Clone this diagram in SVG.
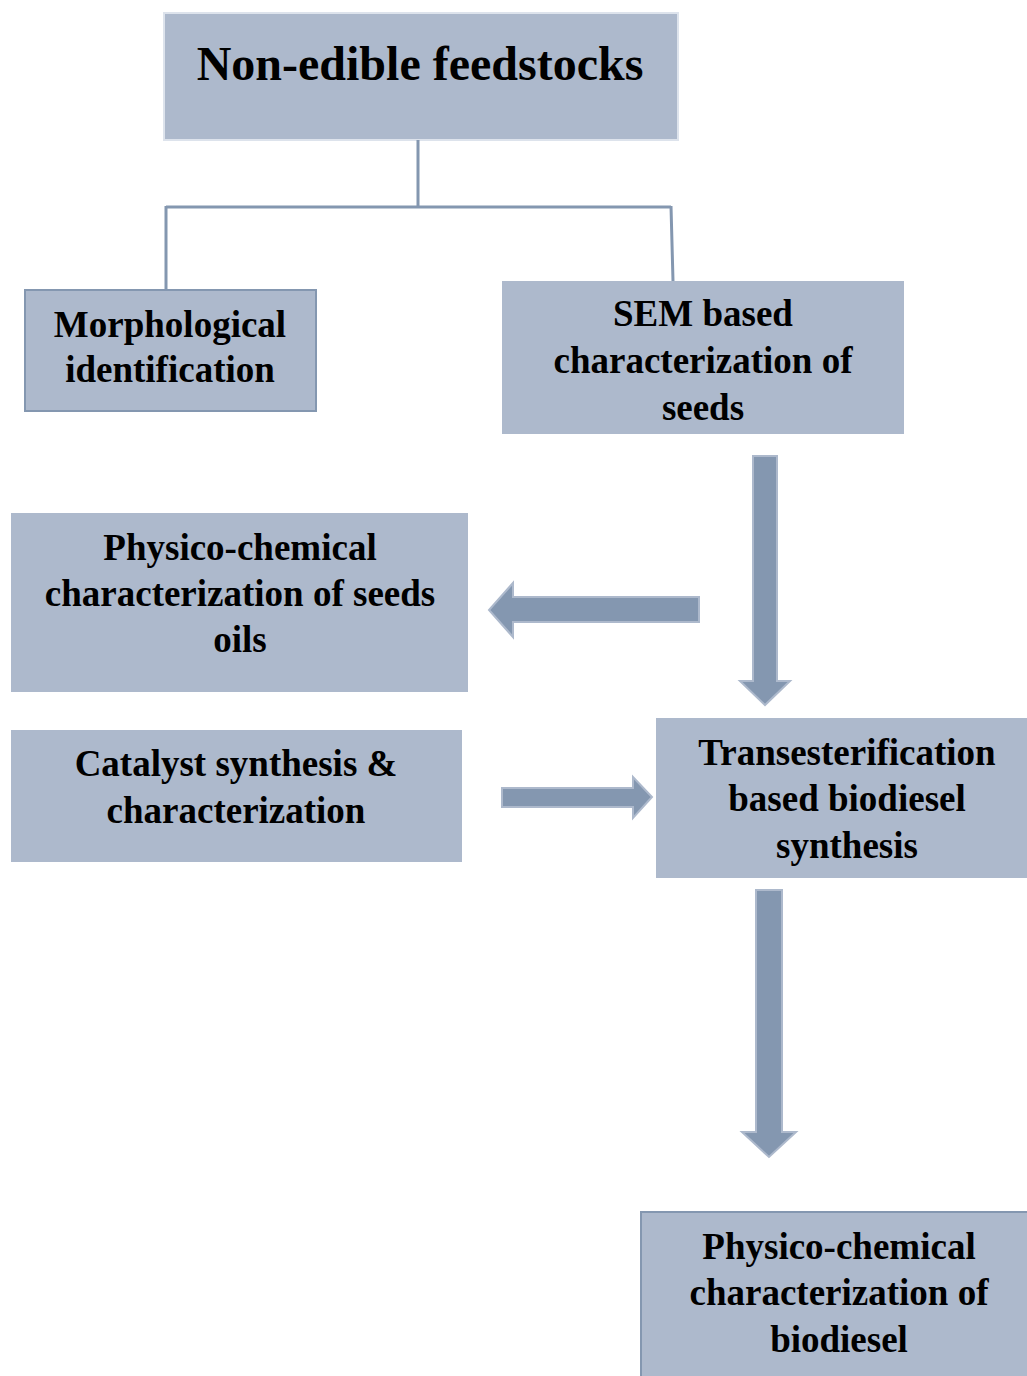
<svg xmlns="http://www.w3.org/2000/svg" width="1027" height="1376" viewBox="0 0 1027 1376">
<style>
.box{fill:#adb9cc;}
.t{font-family:"Liberation Serif","Times New Roman",serif;font-weight:bold;font-size:37px;fill:#000;text-anchor:middle;}
.conn{stroke:#8497b0;stroke-width:3;fill:none;}
.arr{fill:#8497b0;stroke:#adb9cc;stroke-width:2;}
</style>
<rect width="1027" height="1376" fill="#fff"/>
<g id="n-top">
<rect class="box" x="164" y="13" width="514" height="127" stroke="#dde3ec" stroke-width="2"/>
<text class="t" x="420" y="80" style="font-size:48px">Non-edible feedstocks</text>
</g>
<g id="n-morph">
<rect class="box" x="25" y="290" width="291" height="121" stroke="#8497b0" stroke-width="2"/>
<text class="t" x="170" y="337">Morphological</text>
<text class="t" x="170" y="382">identification</text>
</g>
<g id="n-sem">
<rect class="box" x="502" y="281" width="402" height="153"/>
<text class="t" x="703" y="326">SEM based</text>
<text class="t" x="703" y="373">characterization of</text>
<text class="t" x="703" y="420">seeds</text>
</g>
<g id="n-phys-oil">
<rect class="box" x="11" y="513" width="457" height="179"/>
<text class="t" x="240" y="560">Physico-chemical</text>
<text class="t" x="240" y="606">characterization of seeds</text>
<text class="t" x="240" y="652">oils</text>
</g>
<g id="n-cat">
<rect class="box" x="11" y="730" width="451" height="132"/>
<text class="t" x="236" y="776">Catalyst synthesis &amp;</text>
<text class="t" x="236" y="823">characterization</text>
</g>
<g id="n-trans">
<rect class="box" x="656" y="718" width="371" height="160"/>
<text class="t" x="847" y="765">Transesterification</text>
<text class="t" x="847" y="811">based biodiesel</text>
<text class="t" x="847" y="858">synthesis</text>
</g>
<g id="n-phys-bio">
<rect class="box" x="641" y="1212" width="390" height="170" stroke="#8497b0" stroke-width="2"/>
<text class="t" x="839" y="1259">Physico-chemical</text>
<text class="t" x="839" y="1305">characterization of</text>
<text class="t" x="839" y="1352">biodiesel</text>
</g>
<g id="connectors">
<path class="conn" d="M418 140 V207 M166 207 H671 M166 206 V290 M671 206 L673 281"/>
<path class="arr" d="M753 456 H777 V681 H790 L765 705 L740 681 H753 Z"/>
<path class="arr" d="M699 597 V622 H513 V637 L489 610 L513 583 V597 Z"/>
<path class="arr" d="M502 788 H633 V777 L652 797 L633 818 V807 H502 Z"/>
<path class="arr" d="M756 890 H782 V1132 H796 L769 1157 L742 1132 H756 Z"/>
</g>
</svg>
